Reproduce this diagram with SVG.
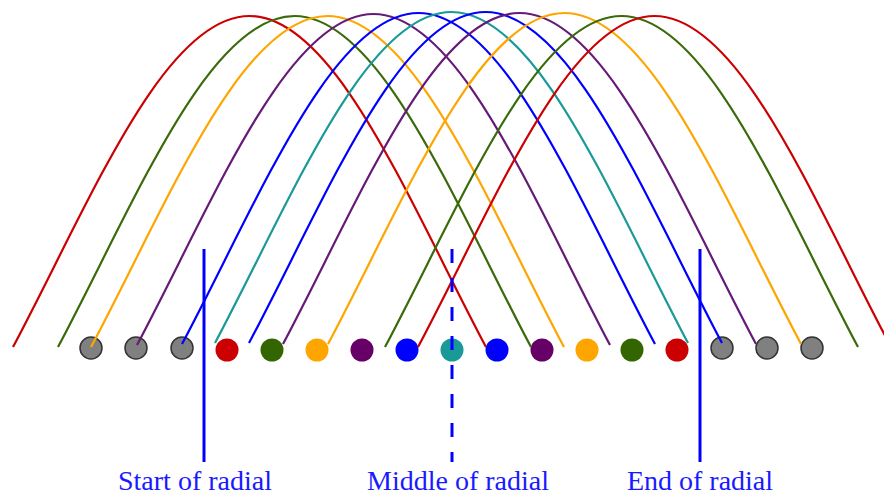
<svg xmlns="http://www.w3.org/2000/svg" xmlns:xlink="http://www.w3.org/1999/xlink" width="884" height="495" viewBox="0 0 884 495">
<style>
.arc{fill:none;stroke-width:2.2;stroke-linecap:butt}
.red{stroke:#cc0000}
.green{stroke:#3a6a0a}
.orange{stroke:#ffa500}
.purple{stroke:#661a78}
.blue{stroke:#0000ff}
.teal{stroke:#1a9999}
.gray{fill:#808080;stroke:#333333;stroke-width:1.5}
.dr{fill:#cc0000}.dg{fill:#336600}.do{fill:#ffa500}.dp{fill:#660066}.db{fill:#0000ff}.dt{fill:#1a9999}
.marker{stroke:#0000ff;stroke-width:3;fill:none}
.label{font-family:"Liberation Serif","Times New Roman",serif;font-size:28px;fill:#1a1aff;text-anchor:middle}
</style>
<defs>
<path id="arc" d="M0,0 C77,-145 151,-331 236.5,-331 C322,-331 396,-145 473,0"/>
</defs>
<g id="dots">
<g id="dot1"><circle class="gray" cx="91" cy="348" r="11"/></g>
<g id="dot2"><circle class="gray" cx="136" cy="348" r="11"/></g>
<g id="dot3"><circle class="gray" cx="182" cy="348" r="11"/></g>
<g id="dot4"><circle class="dr" cx="227" cy="350" r="11.5"/></g>
<g id="dot5"><circle class="dg" cx="272" cy="350" r="11.5"/></g>
<g id="dot6"><circle class="do" cx="317" cy="350" r="11.5"/></g>
<g id="dot7"><circle class="dp" cx="362" cy="350" r="11.5"/></g>
<g id="dot8"><circle class="db" cx="407" cy="350" r="11.5"/></g>
<g id="dot9"><circle class="dt" cx="452" cy="350" r="11.5"/></g>
<g id="dot10"><circle class="db" cx="497" cy="350" r="11.5"/></g>
<g id="dot11"><circle class="dp" cx="542" cy="350" r="11.5"/></g>
<g id="dot12"><circle class="do" cx="587" cy="350" r="11.5"/></g>
<g id="dot13"><circle class="dg" cx="632" cy="350" r="11.5"/></g>
<g id="dot14"><circle class="dr" cx="677" cy="350" r="11.5"/></g>
<g id="dot15"><circle class="gray" cx="722" cy="348" r="11"/></g>
<g id="dot16"><circle class="gray" cx="767" cy="348" r="11"/></g>
<g id="dot17"><circle class="gray" cx="812" cy="348" r="11"/></g>
</g>
<g id="connectors">
<use href="#arc" xlink:href="#arc" class="arc red" x="13" y="347"/>
<use href="#arc" xlink:href="#arc" class="arc green" x="58" y="347"/>
<use href="#arc" xlink:href="#arc" class="arc orange" x="91" y="347"/>
<use href="#arc" xlink:href="#arc" class="arc purple" x="137" y="345"/>
<use href="#arc" xlink:href="#arc" class="arc blue" x="182" y="344"/>
<use href="#arc" xlink:href="#arc" class="arc teal" x="215" y="343"/>
<use href="#arc" xlink:href="#arc" class="arc blue" x="249" y="343"/>
<use href="#arc" xlink:href="#arc" class="arc purple" x="283" y="344"/>
<use href="#arc" xlink:href="#arc" class="arc orange" x="328" y="344"/>
<use href="#arc" xlink:href="#arc" class="arc green" x="385" y="347"/>
<use href="#arc" xlink:href="#arc" class="arc red" x="418" y="347"/>
</g>
<g id="markers">
<line class="marker" x1="204" y1="249" x2="204" y2="462"/>
<line class="marker" x1="452" y1="249" x2="452" y2="462" stroke-dasharray="14 15"/>
<line class="marker" x1="700" y1="249" x2="700" y2="462"/>
</g>
<g id="labels">
<text class="label" x="195" y="490">Start of radial</text>
<text class="label" x="458" y="490">Middle of radial</text>
<text class="label" x="700" y="490">End of radial</text>
</g>
</svg>
